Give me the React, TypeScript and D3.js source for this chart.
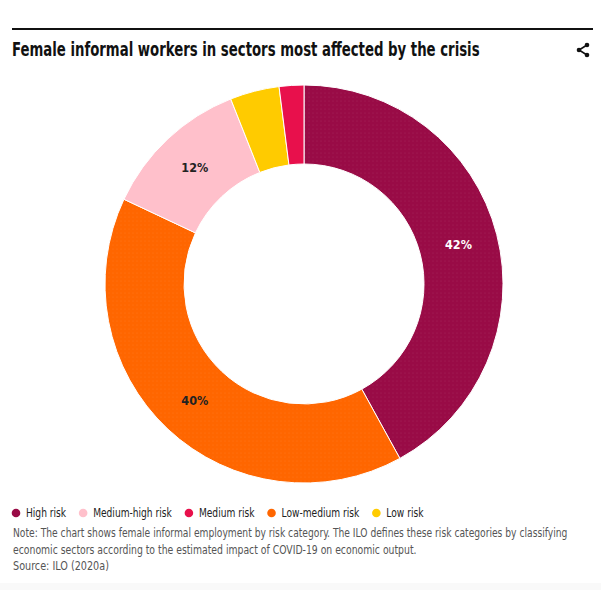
import React, { useRef, useEffect } from 'react';
import * as d3 from 'd3';

// slices in drawing order (clockwise from 12 o'clock)
const categories = ['High risk', 'Low-medium risk', 'Medium-high risk', 'Low risk', 'Medium risk'];
const shares = [42, 40, 12, 4, 2];
const sliceColors = ['#990b46', '#ff6600', '#ffc0cb', '#ffcb00', '#e8104c'];

// legend order as printed under the chart
const legendOrder = ['High risk', 'Medium-high risk', 'Medium risk', 'Low-medium risk', 'Low risk'];

const title = 'Female informal workers in sectors most affected by the crisis';
const noteLines = [
  'Note: The chart shows female informal employment by risk category. The ILO defines these risk categories by classifying',
  'economic sectors according to the estimated impact of COVID-19 on economic output.',
  'Source: ILO (2020a)',
];

const FONT = '"Liberation Sans Narrow", "DejaVu Sans Condensed", Roboto, sans-serif';

type Sel = d3.Selection<SVGTextElement, unknown, null, undefined>;

// squeeze a text horizontally so it spans `target` px (the original face is narrower)
function squeeze(t: Sel, x: number, y: number, target: number) {
  const w = (t.node() as SVGTextElement).getComputedTextLength();
  const k = Math.min(1, target / w);
  t.attr('x', 0).attr('y', 0).attr('transform', `translate(${x},${y}) scale(${k},1)`);
  return w * k;
}

export default function App() {
  const svgRef = useRef<SVGSVGElement>(null);

  useEffect(() => {
    if (!svgRef.current) return;
    const svg = d3.select(svgRef.current);
    svg.selectAll('*').remove();

    const width = 601;
    const height = 590;
    svg.attr('viewBox', `0 0 ${width} ${height}`);

    svg.append('rect').attr('width', width).attr('height', height).attr('fill', '#fff');
    svg.append('rect').attr('y', 583).attr('width', width).attr('height', height - 583).attr('fill', '#f9f9f9');

    // top rule + title
    svg.append('rect').attr('x', 12).attr('y', 28).attr('width', 581).attr('height', 2).attr('fill', '#111');
    const tt = svg.append('text')
      .attr('font-family', FONT).attr('font-weight', 700).attr('font-size', 19).attr('fill', '#111')
      .text(title) as unknown as Sel;
    squeeze(tt, 12, 56, 468);

    // share icon
    const ic = svg.append('g').attr('transform', 'translate(583,50)');
    ic.append('path').attr('d', 'M4,-5 L-4,0 L4,5').attr('fill', 'none').attr('stroke', '#111').attr('stroke-width', 1.6);
    for (const [px, py] of [[4, -5], [-4, 0], [4, 5]]) {
      ic.append('circle').attr('cx', px).attr('cy', py).attr('r', 2.3).attr('fill', '#111');
    }

    // faint dot texture on the two big slices
    const defs = svg.append('defs');
    const pat = defs.append('pattern').attr('id', 'dots').attr('width', 4).attr('height', 4)
      .attr('patternUnits', 'userSpaceOnUse');
    pat.append('circle').attr('cx', 1).attr('cy', 1).attr('r', 0.6).attr('fill', '#fff').attr('fill-opacity', 0.1);

    // donut
    const cx = 304;
    const cy = 284;
    const outerR = 199;
    const innerR = 120;
    const color = d3.scaleOrdinal<string, string>().domain(categories).range(sliceColors);
    const pie = d3.pie<number>().sort(null).value((d) => d);
    const arcs = pie(shares);
    const arc = d3.arc<d3.PieArcDatum<number>>().innerRadius(innerR).outerRadius(outerR);

    const g = svg.append('g').attr('transform', `translate(${cx},${cy})`);
    g.selectAll('path.slice').data(arcs).enter().append('path')
      .attr('class', 'slice')
      .attr('d', arc)
      .attr('fill', (_, i) => color(categories[i]))
      .attr('stroke', '#fff').attr('stroke-width', 1);
    g.selectAll('path.tex').data(arcs.filter((a) => a.value >= 40)).enter().append('path')
      .attr('class', 'tex').attr('d', arc).attr('fill', 'url(#dots)');

    const labelArc = d3.arc<d3.PieArcDatum<number>>()
      .innerRadius((innerR + outerR) / 2).outerRadius((innerR + outerR) / 2);
    g.selectAll('text.lbl').data(arcs.filter((a) => a.value >= 10)).enter().append('text')
      .attr('class', 'lbl')
      .attr('transform', (d) => `translate(${labelArc.centroid(d)})`)
      .attr('text-anchor', 'middle').attr('dy', '0.35em')
      .attr('font-family', FONT).attr('font-weight', 700).attr('font-size', 12.5)
      .attr('fill', (d) => (d.index === 0 ? '#fff' : '#222'))
      .text((d) => `${d.value}%`);

    // legend
    let lx = 16;
    const ly = 513;
    for (const name of legendOrder) {
      svg.append('circle').attr('cx', lx).attr('cy', ly).attr('r', 4.3).attr('fill', color(name));
      const t = svg.append('text')
        .attr('font-family', FONT).attr('font-size', 12.5).attr('fill', '#222').text(name) as unknown as Sel;
      const nat = (t.node() as SVGTextElement).getComputedTextLength();
      const w = squeeze(t, lx + 10, ly + 4, nat * 0.81);
      lx = lx + 10 + w + 17;
    }

    // notes
    const noteWidths = [555, 404, 96];
    noteLines.forEach((line, i) => {
      const t = svg.append('text')
        .attr('font-family', FONT).attr('font-size', 12.5).attr('fill', '#555')
        .text(line) as unknown as Sel;
      squeeze(t, 13, 537 + i * 16.5, noteWidths[i]);
    });
  }, []);

  return (
    <svg ref={svgRef} width={601} height={590}
      style={{ position: 'absolute', left: 0, top: 0, display: 'block' }} />
  );
}
